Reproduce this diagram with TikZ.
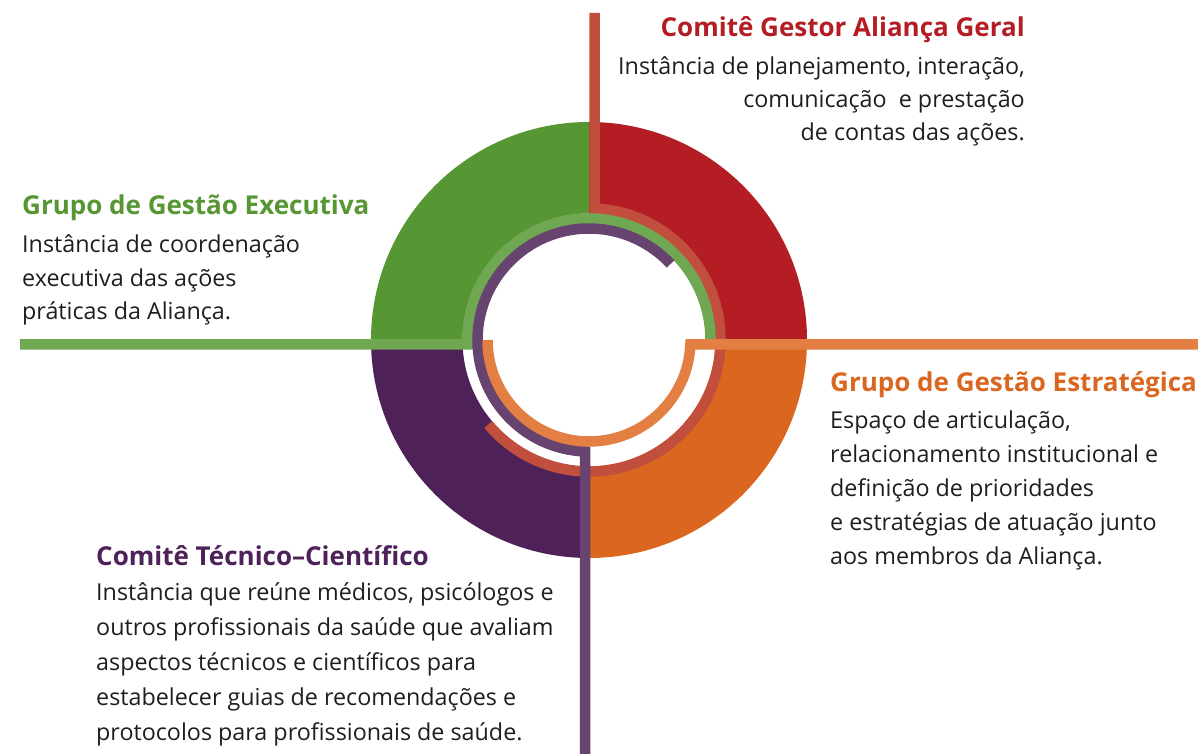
\documentclass[tikz,border=0pt]{standalone}
\usepackage{fontspec}
\setmainfont{Open Sans}
\definecolor{fillred}{HTML}{B41D24}
\definecolor{fillgreen}{HTML}{569734}
\definecolor{fillorange}{HTML}{DB661F}
\definecolor{fillpurple}{HTML}{4E2259}
\definecolor{linered}{HTML}{C24F3D}
\definecolor{linegreen}{HTML}{70A752}
\definecolor{lineorange}{HTML}{E47F44}
\definecolor{linepurple}{HTML}{67446F}
\definecolor{textcol}{HTML}{1E1E1E}
\begin{document}
\begin{tikzpicture}[x=1pt,y=1pt,
  band/.style={line width=10.5pt, line cap=butt, line join=miter},
  body/.style={font=\fontsize{23.3}{28}\selectfont, text=textcol, inner sep=0pt},
  ttl/.style={font=\fontsize{26}{31}\selectfont\bfseries, inner sep=0pt}]
\useasboundingbox (0,0) rectangle (1198,753);
\fill[white] (0,0) rectangle (1198,753);
\coordinate (C) at (589,413);
% quadrant fills
\fill[fillred] (C) ++(0:218) arc[start angle=0,end angle=90,radius=218] -- ++(0,-91.5) arc[start angle=90,end angle=0,radius=126.5] -- cycle;
\fill[fillgreen] (C) ++(90:218) arc[start angle=90,end angle=180,radius=218] -- ++(91.5,0) arc[start angle=180,end angle=90,radius=126.5] -- cycle;
\fill[fillpurple] (C) ++(180:218) arc[start angle=180,end angle=270,radius=218] -- ++(0,91.5) arc[start angle=270,end angle=180,radius=126.5] -- cycle;
\fill[fillorange] (C) ++(270:218) arc[start angle=270,end angle=360,radius=218] -- ++(-91.5,0) arc[start angle=360,end angle=270,radius=126.5] -- cycle;
% connector ends
\coordinate (redtop) at (594.5,740);
\coordinate (greenend) at (20,408.5);
\coordinate (orangeend) at (1202,408.5);
\coordinate (purpleend) at (585,-4);
% bands
\draw[band, linered] (redtop) -- ([shift={(87.6:131.5)}]C) arc[start angle=87.6,end angle=-140,radius=131.5];
\draw[band, linegreen] (greenend) -- ([shift={(182.1:121.5)}]C) arc[start angle=182.1,end angle=0,radius=121.5];
\draw[band, linepurple] (purpleend) -- ([shift={(-92.06:111.5)}]C) arc[start angle=-92.06,end angle=-317,radius=111.5];
\draw[band, lineorange] (orangeend) -- ([shift={(-2.54:101.5)}]C) arc[start angle=-2.54,end angle=-180,radius=101.5];
% red block
\node[ttl, text=fillred, anchor=base east] (rt) at (1025,716) {Comitê Gestor Aliança Geral};
\node[body, anchor=base east] (r1) at (1025,678) {Instância de planejamento, interação,};
\node[body, anchor=base east] (r2) at (1025,645) {comunicação~ e prestação};
\node[body, anchor=base east] (r3) at (1025,612) {de contas das ações.};
% green block
\node[ttl, text=fillgreen, anchor=base west] (gt) at (22,538) {Grupo de Gestão Executiva};
\node[body, anchor=base west] (g1) at (22,500) {Instância de coordenação};
\node[body, anchor=base west] (g2) at (22,466.5) {executiva das ações};
\node[body, anchor=base west] (g3) at (22,433) {práticas da Aliança.};
% orange block
\node[ttl, text=fillorange, anchor=base west] (ot) at (830,361) {Grupo de Gestão Estratégica};
\node[body, anchor=base west] (o1) at (830,325) {Espaço de articulação,};
\node[body, anchor=base west] (o2) at (830,291) {relacionamento institucional e};
\node[body, anchor=base west] (o3) at (830,257) {definição de prioridades};
\node[body, anchor=base west] (o4) at (830,223) {e estratégias de atuação junto};
\node[body, anchor=base west] (o5) at (830,189) {aos membros da Aliança.};
% purple block
\node[ttl, text=fillpurple, anchor=base west] (pt) at (96,188) {Comitê Técnico–Científico};
\node[body, anchor=base west] (p1) at (96,153) {Instância que reúne médicos, psicólogos e};
\node[body, anchor=base west] (p2) at (96,118) {outros profissionais da saúde que avaliam};
\node[body, anchor=base west] (p3) at (96,83) {aspectos técnicos e científicos para};
\node[body, anchor=base west] (p4) at (96,48) {estabelecer guias de recomendações e};
\node[body, anchor=base west] (p5) at (96,13) {protocolos para profissionais de saúde.};
\end{tikzpicture}
\end{document}
